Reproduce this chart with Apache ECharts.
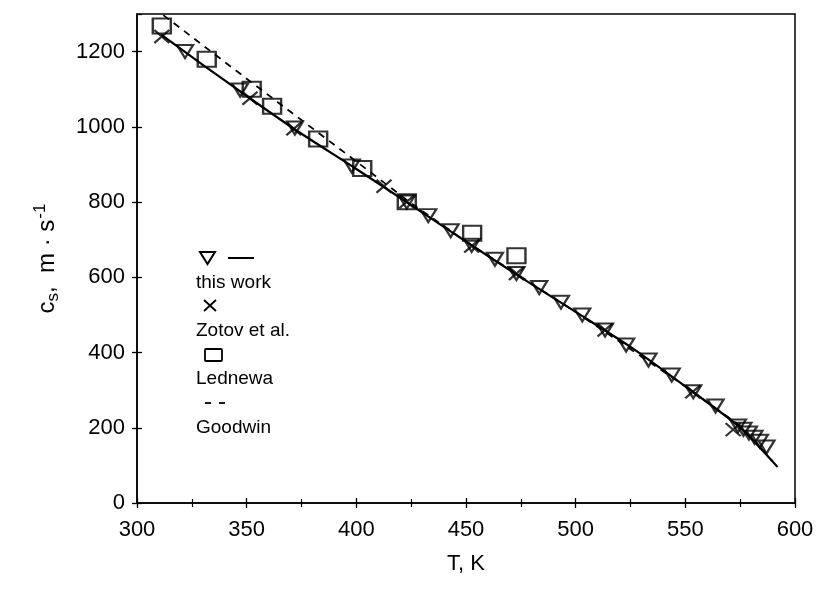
<!DOCTYPE html>
<html>
<head>
<meta charset="utf-8">
<script src="https://cdn.jsdelivr.net/npm/echarts@6/dist/echarts.min.js"></script>
<style>
html,body{margin:0;padding:0;background:#fff;}
#chart{width:825px;height:595px;}
</style>
</head>
<body>
<div id="chart"></div>
<script>
// ---- data ----
const xTicks = [300, 350, 400, 450, 500, 550, 600];
const yTicks = [0, 200, 400, 600, 800, 1000, 1200];

// this work (triangles)
const T_thisWork = [321.9, 347, 372, 397.9, 423, 432.8, 443, 452.6, 463.2, 473, 483.4, 493.3, 503, 513.4, 523, 533.2, 543.8, 553.6, 563.8, 574, 576.5, 579, 581.5, 584, 587];
const cs_thisWork = [1200, 1098, 997, 896, 800, 764, 724, 685, 648, 610, 573, 534, 500, 460, 420, 380, 340, 296, 258, 205, 196, 186, 175, 164, 149];

// this work (solid fitted line)
const T_fit = [311, 330, 350, 372, 400, 425, 450, 475, 500, 525, 550, 575, 592];
const cs_fit = [1245, 1165, 1082, 993, 888, 792, 695, 600, 508, 415, 310, 201, 96];

// Zotov et al. (crosses)
const T_zotov = [311.3, 351.5, 371.5, 412.6, 423, 452.6, 473, 513.4, 553.4, 571.8];
const cs_zotov = [1240, 1076, 995, 842, 801, 683, 610, 460, 296, 195];

// Lednewa (squares)
const T_lednewa = [311.3, 331.8, 352.3, 361.6, 382.6, 402.7, 423, 452.8, 473];
const cs_lednewa = [1268, 1180, 1100, 1055, 968, 889, 801, 717, 657];

// Goodwin (dashed line)
const T_goodwin = [312, 350, 400, 425, 450, 500, 550, 575, 590];
const cs_goodwin = [1297, 1128, 908, 797, 695, 508, 310, 205, 110];

const legendNames = ['this work', 'Zotov et al.', 'Lednewa', 'Goodwin'];

// ---- build ----
const zip = (a, b) => a.map((v, i) => [v, b[i]]);
const FONT = "'Liberation Sans', Arial, sans-serif";
const crossPath = 'path://M0,0L10,10M10,0L0,10';

const chart = echarts.init(document.getElementById('chart'), null, {renderer: 'canvas'});

const commonX = {type: 'value', min: xTicks[0], max: xTicks[xTicks.length - 1], interval: 50, gridIndex: 0};
const commonY = {type: 'value', min: 0, max: 1300, interval: 200, gridIndex: 0};
const LEG_FONT = "19px 'Liberation Sans', Arial, sans-serif";

const option = {
  backgroundColor: '#fff',
  animation: false,
  grid: {left: 137, right: 30, top: 14, bottom: 92, show: true, borderColor: '#000', borderWidth: 1.5, backgroundColor: 'transparent'},
  xAxis: [
    Object.assign({}, commonX, {
      position: 'bottom',
      name: 'T, K', nameLocation: 'middle', nameGap: 50,
      nameTextStyle: {fontFamily: FONT, fontSize: 22, color: '#000'},
      axisLine: {show: true, lineStyle: {color: '#000', width: 1.5}},
      axisTick: {show: true, inside: false, length: 5, lineStyle: {color: '#000', width: 1.3}},
      minorTick: {show: true, splitNumber: 2, length: 4, lineStyle: {color: '#000', width: 1.2}},
      axisLabel: {fontFamily: FONT, fontSize: 22, color: '#000', margin: 16, formatter: v => String(v)},
      splitLine: {show: false}
    }),
    Object.assign({}, commonX, {
      position: 'bottom',
      axisLine: {show: false},
      axisTick: {show: true, inside: true, length: 5, lineStyle: {color: '#000', width: 1.3}},
      minorTick: {show: true, splitNumber: 2, length: 4, lineStyle: {color: '#000', width: 1.2}},
      axisLabel: {show: false},
      splitLine: {show: false}
    })
  ],
  yAxis: [
    Object.assign({}, commonY, {
      position: 'left',
      name: '{a|c}{sub|s}{a|,  m · s}{sup|-1}', nameLocation: 'middle', nameGap: 74, nameRotate: 90,
      nameTextStyle: {
        fontFamily: FONT, fontSize: 24, color: '#000',
        rich: {
          a: {fontFamily: FONT, fontSize: 24, color: '#000'},
          sub: {fontFamily: FONT, fontSize: 17, color: '#000', padding: [12, 0, 0, 0]},
          sup: {fontFamily: FONT, fontSize: 17, color: '#000', padding: [0, 0, 14, 1]}
        }
      },
      axisLine: {show: true, lineStyle: {color: '#000', width: 1.5}},
      axisTick: {show: true, inside: false, length: 5, lineStyle: {color: '#000', width: 1.3}},
      axisLabel: {fontFamily: FONT, fontSize: 22, color: '#000', margin: 12, showMaxLabel: false, formatter: v => (yTicks.indexOf(v) >= 0 ? String(v) : '')},
      splitLine: {show: false}
    }),
    Object.assign({}, commonY, {
      position: 'left',
      axisLine: {show: false},
      axisTick: {show: true, inside: true, length: 5, lineStyle: {color: '#000', width: 1.3}},
      axisLabel: {show: false},
      splitLine: {show: false}
    })
  ],
  series: [
    {
      name: 'Goodwin', type: 'line', data: zip(T_goodwin, cs_goodwin),
      showSymbol: false, symbol: 'none', smooth: false,
      lineStyle: {color: '#000', width: 1.8, type: [7, 6]}, z: 2
    },
    {
      name: legendNames[0] + ' fit', type: 'line', data: zip(T_fit, cs_fit),
      showSymbol: false, symbol: 'none', smooth: 0.2,
      lineStyle: {color: '#000', width: 2.2}, z: 3
    },
    {
      name: 'this work', type: 'scatter', data: zip(T_thisWork, cs_thisWork),
      symbol: 'triangle', symbolRotate: 180, symbolSize: [16, 13],
      itemStyle: {color: 'rgba(255,255,255,0)', borderColor: '#000', borderWidth: 2.2}, z: 4
    },
    {
      name: 'Zotov et al.', type: 'scatter', data: zip(T_zotov, cs_zotov),
      symbol: crossPath, symbolSize: [15, 13],
      itemStyle: {color: 'rgba(255,255,255,0)', borderColor: '#000', borderWidth: 2.2}, z: 4
    },
    {
      name: 'Lednewa', type: 'scatter', data: zip(T_lednewa, cs_lednewa),
      symbol: 'rect', symbolSize: [18, 15],
      itemStyle: {color: 'rgba(255,255,255,0)', borderColor: '#000', borderWidth: 2.2}, z: 4
    }
  ],
  graphic: [
    {type: 'polygon', shape: {points: [[200, 252], [215, 252], [207.5, 264]]}, style: {fill: 'none', stroke: '#000', lineWidth: 2}},
    {type: 'line', shape: {x1: 228, y1: 258, x2: 254, y2: 258}, style: {stroke: '#000', lineWidth: 2}},
    {type: 'text', x: 196, y: 283, style: {text: legendNames[0], font: LEG_FONT, fill: '#000', textVerticalAlign: 'middle'}},
    {type: 'line', shape: {x1: 204, y1: 300, x2: 216, y2: 311}, style: {stroke: '#000', lineWidth: 1.8}},
    {type: 'line', shape: {x1: 216, y1: 300, x2: 204, y2: 311}, style: {stroke: '#000', lineWidth: 1.8}},
    {type: 'text', x: 196, y: 331, style: {text: legendNames[1], font: LEG_FONT, fill: '#000', textVerticalAlign: 'middle'}},
    {type: 'rect', shape: {x: 205, y: 349, width: 17, height: 12, r: 1}, style: {fill: 'none', stroke: '#000', lineWidth: 1.8}},
    {type: 'text', x: 196, y: 379, style: {text: legendNames[2], font: LEG_FONT, fill: '#000', textVerticalAlign: 'middle'}},
    {type: 'line', shape: {x1: 205, y1: 403, x2: 211, y2: 403}, style: {stroke: '#000', lineWidth: 1.8}},
    {type: 'line', shape: {x1: 219, y1: 403, x2: 225, y2: 403}, style: {stroke: '#000', lineWidth: 1.8}},
    {type: 'text', x: 196, y: 428, style: {text: legendNames[3], font: LEG_FONT, fill: '#000', textVerticalAlign: 'middle'}}
  ]
};
chart.setOption(option);
</script>
</body>
</html>
